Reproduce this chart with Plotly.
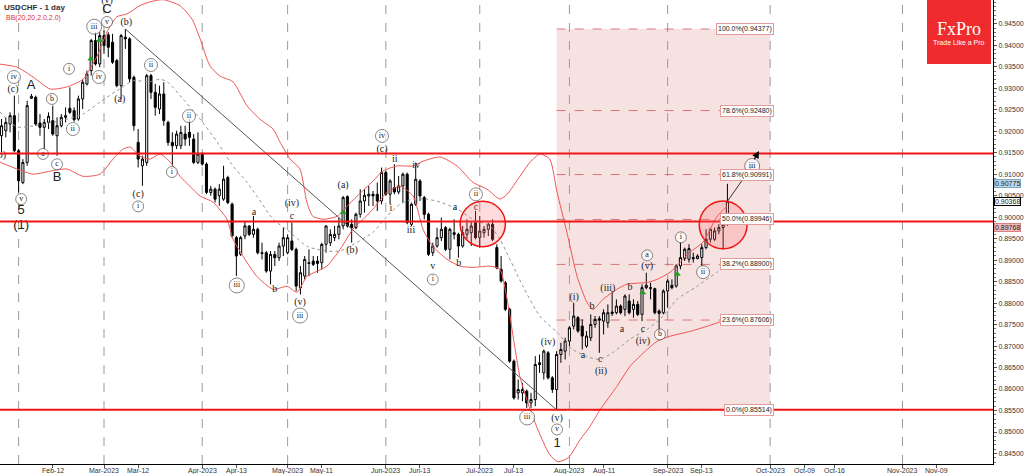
import plotly.graph_objects as go

# ---------------- DATA (bar numbers = trading days counted from 1 Mar 2023 = 0) ----------------
FIRST_BAR = -24

open_ = [
    0.91894, 0.92011, 0.92166, 0.92361, 0.91545, 0.90807, 0.91273, 0.92765, 0.92788, 0.92190,
    0.92089, 0.92205, 0.92244, 0.91894, 0.92127, 0.92322, 0.92531, 0.92477, 0.92283, 0.92749,
    0.93099, 0.93410, 0.94109, 0.93565, 0.94225, 0.94241, 0.94070, 0.93643, 0.93060, 0.94186,
    0.94148, 0.93254, 0.91739, 0.91195, 0.91273, 0.93293, 0.92904, 0.92516, 0.92866, 0.92205,
    0.91739, 0.91661, 0.91661, 0.91933, 0.91972, 0.91817, 0.91273, 0.91467, 0.91234, 0.90574,
    0.90651, 0.90496, 0.90418, 0.90923, 0.90302, 0.89524, 0.89136, 0.89563, 0.89794, 0.89599,
    0.89716, 0.89172, 0.89172, 0.88745, 0.89133, 0.89055, 0.89327, 0.89172, 0.89444, 0.89250,
    0.88356, 0.88628, 0.88939, 0.88978, 0.88978, 0.88939, 0.89366, 0.89405, 0.89522, 0.89599,
    0.89794, 0.90477, 0.89833, 0.89755, 0.90066, 0.90376, 0.90493, 0.90532, 0.90532, 0.90376,
    0.91037, 0.90532, 0.90687, 0.90586, 0.90726, 0.90998, 0.89833, 0.90299, 0.90843, 0.90454,
    0.90066, 0.89172, 0.89327, 0.89522, 0.89755, 0.89250, 0.89638, 0.89599, 0.89327, 0.89599,
    0.89638, 0.89871, 0.89522, 0.89638, 0.89716, 0.89833, 0.89291, 0.88786, 0.88475, 0.87854,
    0.86649, 0.85911, 0.85911, 0.85950, 0.85678, 0.85756, 0.86610, 0.86377, 0.86843, 0.86261,
    0.85989, 0.86805, 0.86882, 0.87115, 0.87465, 0.87660, 0.87465, 0.87000, 0.87194, 0.87504,
    0.87636, 0.87582, 0.87543, 0.87792, 0.87776, 0.87931, 0.87854, 0.88048, 0.87854, 0.87970,
    0.87737, 0.88359, 0.88335, 0.88335, 0.87815, 0.87776, 0.88281, 0.88413, 0.88397, 0.88864,
    0.89035, 0.89019, 0.89058, 0.89035, 0.89058, 0.89291, 0.89485, 0.89485, 0.89680, 0.89757,
    0.89835,
]
high = [
    0.92283, 0.92322, 0.92438, 0.92827, 0.91584, 0.91350, 0.92710, 0.92866, 0.92827, 0.92399,
    0.92283, 0.92438, 0.92594, 0.92322, 0.92399, 0.92555, 0.93021, 0.92555, 0.92827, 0.93215,
    0.93410, 0.94148, 0.94303, 0.94303, 0.94342, 0.94303, 0.94264, 0.93681, 0.94264, 0.94377,
    0.94186, 0.93293, 0.92050, 0.91428, 0.93332, 0.93332, 0.93099, 0.93060, 0.93138, 0.92244,
    0.91972, 0.92011, 0.92127, 0.92127, 0.92283, 0.91933, 0.91972, 0.91506, 0.91273, 0.90729,
    0.90690, 0.90768, 0.91195, 0.90962, 0.90340, 0.89563, 0.89563, 0.89913, 0.89809, 0.90027,
    0.89755, 0.89405, 0.89211, 0.89211, 0.89211, 0.89405, 0.89755, 0.89599, 0.89871, 0.89289,
    0.88861, 0.89094, 0.89250, 0.89094, 0.89094, 0.89405, 0.89809, 0.89716, 0.89794, 0.89988,
    0.90493, 0.90508, 0.89949, 0.90104, 0.90648, 0.90648, 0.90726, 0.90610, 0.90804, 0.91153,
    0.91076, 0.90881, 0.91231, 0.90959, 0.91037, 0.91037, 0.90338, 0.91270, 0.90881, 0.90493,
    0.90104, 0.89405, 0.89755, 0.89988, 0.89794, 0.89755, 0.89949, 0.89638, 0.89794, 0.89949,
    0.89910, 0.90143, 0.90027, 0.89794, 0.89871, 0.89949, 0.89369, 0.89097, 0.88514, 0.87892,
    0.86688, 0.86222, 0.86144, 0.85989, 0.85911, 0.86766, 0.86805, 0.86921, 0.86882, 0.86300,
    0.86882, 0.87077, 0.87194, 0.87465, 0.88009, 0.87698, 0.87621, 0.87349, 0.87737, 0.87698,
    0.87698, 0.87854, 0.87970, 0.88281, 0.88087, 0.87970, 0.88203, 0.88203, 0.88087, 0.88048,
    0.88436, 0.88708, 0.88475, 0.88359, 0.87854, 0.88320, 0.88553, 0.88553, 0.88903, 0.89408,
    0.89291, 0.89369, 0.89174, 0.89136, 0.89369, 0.89718, 0.89757, 0.89757, 0.89835, 0.89913,
    0.90775,
]
low = [
    0.91506, 0.91856, 0.91972, 0.91506, 0.90574, 0.90768, 0.91195, 0.92749, 0.92127, 0.91894,
    0.91584, 0.92050, 0.91894, 0.91428, 0.92089, 0.92205, 0.92399, 0.92221, 0.92244, 0.92516,
    0.93060, 0.93293, 0.93526, 0.93487, 0.93798, 0.93720, 0.93565, 0.93021, 0.92749, 0.93915,
    0.93138, 0.92011, 0.91156, 0.90729, 0.91195, 0.92749, 0.92361, 0.92399, 0.92127, 0.91661,
    0.91195, 0.91584, 0.91584, 0.91661, 0.91661, 0.91234, 0.91234, 0.91195, 0.90535, 0.90496,
    0.90340, 0.90263, 0.90379, 0.90302, 0.89524, 0.88631, 0.89097, 0.89486, 0.89561, 0.89522,
    0.89133, 0.89017, 0.88706, 0.88434, 0.88861, 0.88978, 0.89094, 0.89133, 0.89211, 0.88278,
    0.88201, 0.88550, 0.88628, 0.88861, 0.88706, 0.88784, 0.89172, 0.89327, 0.89444, 0.89483,
    0.89716, 0.89755, 0.89405, 0.89716, 0.89988, 0.90104, 0.90260, 0.90260, 0.90143, 0.90299,
    0.90493, 0.90299, 0.90532, 0.90532, 0.90338, 0.89833, 0.89794, 0.90260, 0.90376, 0.89949,
    0.89094, 0.89094, 0.89289, 0.89444, 0.89211, 0.89017, 0.89483, 0.89055, 0.89289, 0.89483,
    0.89327, 0.89483, 0.89289, 0.89522, 0.89561, 0.89444, 0.88786, 0.88475, 0.87815, 0.86610,
    0.85756, 0.85756, 0.85717, 0.85562, 0.85562, 0.85600, 0.86377, 0.86222, 0.86222, 0.85911,
    0.85514, 0.86610, 0.86688, 0.87000, 0.87387, 0.87310, 0.86921, 0.86960, 0.87115, 0.87426,
    0.86843, 0.87271, 0.87426, 0.87698, 0.87737, 0.87737, 0.87698, 0.87737, 0.87660, 0.87698,
    0.87582, 0.88320, 0.88087, 0.87737, 0.87387, 0.87737, 0.87892, 0.88320, 0.88359, 0.88786,
    0.88980, 0.88941, 0.88941, 0.89019, 0.88864, 0.89252, 0.89408, 0.89447, 0.89602, 0.89252,
    0.89796,
]
close = [
    0.92127, 0.92205, 0.92361, 0.91545, 0.90845, 0.91273, 0.92594, 0.92811, 0.92166, 0.92089,
    0.92205, 0.92345, 0.91933, 0.92127, 0.92322, 0.92361, 0.92438, 0.92267, 0.92749, 0.93138,
    0.93332, 0.94109, 0.93565, 0.94225, 0.93992, 0.93953, 0.93604, 0.93060, 0.94225, 0.94148,
    0.93215, 0.92127, 0.91350, 0.91350, 0.93293, 0.92904, 0.92555, 0.92866, 0.92244, 0.91739,
    0.91661, 0.91933, 0.91972, 0.91817, 0.91856, 0.91273, 0.91467, 0.91234, 0.90574, 0.90651,
    0.90418, 0.90651, 0.90884, 0.90340, 0.89563, 0.89097, 0.89524, 0.89796, 0.89599, 0.89716,
    0.89172, 0.89156, 0.88745, 0.89133, 0.89055, 0.89327, 0.89522, 0.89522, 0.89250, 0.88395,
    0.88706, 0.89017, 0.88923, 0.88900, 0.88923, 0.89366, 0.89794, 0.89599, 0.89599, 0.89794,
    0.90454, 0.89794, 0.89755, 0.90066, 0.90376, 0.90508, 0.90532, 0.90493, 0.90376, 0.91037,
    0.90532, 0.90843, 0.90586, 0.90726, 0.90998, 0.89871, 0.90299, 0.90881, 0.90493, 0.90066,
    0.89133, 0.89327, 0.89522, 0.89716, 0.89250, 0.89716, 0.89599, 0.89327, 0.89638, 0.89716,
    0.89794, 0.89522, 0.89677, 0.89716, 0.89833, 0.89483, 0.88817, 0.88514, 0.87854, 0.86649,
    0.85795, 0.85989, 0.85989, 0.85678, 0.85756, 0.86571, 0.86571, 0.86882, 0.86261, 0.85989,
    0.86805, 0.86921, 0.87115, 0.87426, 0.87698, 0.87349, 0.87233, 0.87233, 0.87504, 0.87621,
    0.87605, 0.87776, 0.87776, 0.87760, 0.87931, 0.87776, 0.88164, 0.87776, 0.87970, 0.87737,
    0.88359, 0.88413, 0.88359, 0.87776, 0.87760, 0.88281, 0.88514, 0.88359, 0.88864, 0.89058,
    0.89252, 0.89268, 0.89035, 0.89097, 0.89291, 0.89485, 0.89718, 0.89680, 0.89757, 0.89835,
    0.90368,
]

# Bollinger Bands (20, 2)
bb_up_bar = [-24.4, -20.4, -16.6, -12.6, -8.7, -4.9, -1.6, 0.7, 3.0, 5.4, 8.4, 10.8, 13.8, 17.8, 20.6,
             22.5, 24.8, 27.2, 30.2, 33.5, 36.5, 39.6, 41.2, 43.6, 45.9, 47.5, 48.9, 51.3, 54.6, 56.9,
             59.3, 63.0, 65.3, 68.6, 72.4, 74.7, 78.7, 82.7, 86.4, 89.7, 92.7, 94.4, 97.4, 99.8, 102.1,
             104.4, 106.1, 108.4, 110.8, 113.1, 114.5, 116.9, 120.1, 122.5, 127.2, 129.5, 132.6, 137.2,
             140.3, 143.6, 145.9]
bb_up = [0.9356, 0.9349, 0.9326, 0.9298, 0.9303, 0.9321, 0.9375, 0.9431, 0.9466, 0.9473, 0.9492, 0.9501,
         0.9506, 0.9492, 0.9461, 0.9415, 0.9352, 0.9328, 0.9315, 0.9259, 0.9228, 0.9205, 0.9175, 0.9135,
         0.9112, 0.9035, 0.9002, 0.8995, 0.9002, 0.9025, 0.9049, 0.9084, 0.9107, 0.9119, 0.9119, 0.9130,
         0.9140, 0.9119, 0.9081, 0.9065, 0.9042, 0.9053, 0.9095, 0.9128, 0.9147, 0.9135, 0.9058, 0.8965,
         0.8862, 0.8802, 0.8785, 0.8809, 0.8832, 0.8844, 0.8848, 0.8855, 0.8872, 0.8918, 0.8942, 0.9002,
         0.9025]
bb_lo_bar = [-24.4, -20.4, -16.6, -12.6, -8.7, -4.9, -0.9, 2.1, 4.4, 6.1, 8.4, 10.8, 13.1, 15.5, 17.8,
             20.1, 22.5, 25.5, 28.8, 30.2, 33.0, 35.8, 39.6, 42.9, 45.2, 47.5, 49.9, 52.2, 55.3, 58.3,
             60.7, 63.0, 66.3, 69.3, 72.4, 74.7, 77.0, 80.3, 83.4, 86.4, 90.4, 92.7, 94.4, 96.3, 97.4,
             99.8, 102.1, 104.4, 106.3, 108.7, 111.5, 113.8, 116.2, 120.1, 123.2, 127.2, 129.5, 132.6,
             137.2, 141.2, 145.9]
bb_lo = [0.9128, 0.9112, 0.9100, 0.9107, 0.9112, 0.9095, 0.9100, 0.9135, 0.9158, 0.9163, 0.9142, 0.9135,
         0.9147, 0.9128, 0.9095, 0.9072, 0.9049, 0.9035, 0.8995, 0.8949, 0.8902, 0.8862, 0.8832, 0.8839,
         0.8825, 0.8862, 0.8874, 0.8886, 0.8925, 0.8972, 0.8995, 0.9019, 0.9058, 0.9072, 0.9049, 0.8972,
         0.8932, 0.8902, 0.8886, 0.8883, 0.8886, 0.8879, 0.8809, 0.8692, 0.8629, 0.8552, 0.8494, 0.8447,
         0.8431, 0.8440, 0.8482, 0.8513, 0.8552, 0.8606, 0.8653, 0.8692, 0.8711, 0.8723, 0.8734, 0.8746,
         0.8762]
bb_mid_bar = [-24.4, -20.4, -16.6, -8.7, -4.9, -0.9, 3.0, 6.8, 10.8, 13.1, 14.8, 18.5, 22.5, 26.5, 30.2,
              33.5, 35.8, 39.6, 43.6, 47.5, 52.2, 55.3, 57.6, 63.0, 66.3, 69.3, 72.4, 75.6, 78.7, 82.7,
              86.4, 90.4, 92.7, 98.1, 102.1, 106.1, 109.8, 113.8, 116.2, 119.2, 123.2, 127.2, 130.9,
              134.2, 138.9, 143.6, 145.9]
bb_mid = [0.9245, 0.9210, 0.9212, 0.9228, 0.9240, 0.9268, 0.9294, 0.9317, 0.9315, 0.9321, 0.9315, 0.9275,
          0.9228, 0.9175, 0.9119, 0.9081, 0.9049, 0.8995, 0.8965, 0.8932, 0.8921, 0.8921, 0.8932, 0.8965,
          0.9002, 0.9030, 0.9042, 0.9042, 0.9035, 0.9019, 0.8995, 0.8979, 0.8949, 0.8839, 0.8769, 0.8732,
          0.8692, 0.8673, 0.8669, 0.8685, 0.8716, 0.8739, 0.8769, 0.8809, 0.8839, 0.8872, 0.8886]

# Fibonacci retracement
fib_bar0, fib_bar1 = 106, 156
fib_pct = [0.0, 23.6, 38.2, 50.0, 61.8, 78.6, 100.0]
fib_price = [0.85514, 0.87606, 0.88900, 0.89946, 0.90991, 0.92480, 0.94377]

# horizontal key levels
hline_prices = [0.9148, 0.8990, 0.8552]
# trend line (from March high to July low)
trend_bars = [5, 106]
trend_prices = [0.94377, 0.85514]
# highlighted zones (centre bar, centre price, radius in bars, radius in price)
zone_bars = [88.7, 145.0]
zone_prices = [0.8984, 0.8982]
zone_rx = [5.3, 5.6]
zone_ry = [0.00528, 0.00558]
# projection
proj_bars = [146, 151.8, 153.4]
proj_prices = [0.90368, 0.9119, 0.9154]
# buy arrows
buy_bars = [-3.1, -1.1, 56.0, 126.2, 134.3]
buy_prices = [0.9368, 0.9411, 0.9011, 0.8824, 0.8867]

# wave labels
circ_text = ["iv", "b", "i", "a", "c", "ii", "v", "iii", "v", "iv", "ii", "i", "i", "ii", "iii", "iii",
             "iv", "i", "ii", "iii", "v", "a", "b", "i", "ii", "iii"]
circ_bar = [-21.1, -12.2, -8.2, -14.3, -11.0, -7.3, -19.4, -2.3, 0.7, -1.2, 11.0, 8.0, 15.9, 19.9, 31.1,
            45.9, 65.1, 77.0, 87.1, 99.1, 106.1, 127.2, 130.2, 135.1, 140.3, 151.8]
circ_price = [0.9326, 0.9275, 0.9345, 0.9147, 0.9123, 0.9205, 0.9042, 0.9443, 0.9454, 0.9326, 0.9354,
              0.9025, 0.9105, 0.9235, 0.8841, 0.8771, 0.9189, 0.8855, 0.9053, 0.8534, 0.8506, 0.8911,
              0.8727, 0.8953, 0.8872, 0.9119]
wave_text = ["b)", "(c)", "(v)", "(b)", "(a)", "(c)", "(iv)", "(v)", "(a)", "(b)", "(c)", "(v)", "(iv)",
             "(i)", "(ii)", "(iii)", "(iv)", "(v)",
             "a", "c", "b", "ii", "i", "iv", "iii", "v", "a", "b", "c", "b", "a", "c", "b", "a", "c"]
wave_bar = [-23.9, -21.3, 0.7, 5.2, 3.7, 8.0, 44.0, 45.9, 56.0, 58.1, 65.1, 106.1, 104.0, 110.1, 116.4,
            118.0, 126.2, 127.2,
            35.1, 44.0, 40.0, 68.1, 67.2, 73.1, 71.9, 77.0, 82.2, 83.1, 87.1, 114.3, 112.2, 116.2, 123.2,
            121.3, 126.2]
wave_price = [0.9144, 0.9298, 0.9504, 0.9452, 0.9273, 0.9053, 0.9032, 0.8802, 0.9074, 0.8923, 0.9158,
              0.8531, 0.8708, 0.8813, 0.8641, 0.8834, 0.8711, 0.8886,
              0.9011, 0.9002, 0.8832, 0.9133, 0.9019, 0.9119, 0.8970, 0.8886, 0.9023, 0.8893, 0.9023,
              0.8792, 0.8678, 0.8669, 0.8837, 0.8739, 0.8739]
big_text = ["A", "B", "C", "5", "(1)", "1"]
big_bar = [-17.1, -11.0, 0.7, -19.4, -19.4, 106.1]
big_price = [0.9305, 0.9091, 0.9482, 0.9014, 0.8981, 0.8473]

# axes
tick_bars = [-12, 0, 8, 23, 31, 43, 51, 66, 74, 88, 96, 109, 117, 132, 140, 156, 164, 171, 187, 195]
tick_text = ["Feb-12", "Mar-2023", "Mar-12", "Apr-2023", "Apr-13", "May-2023", "May-11", "Jun-2023",
             "Jun-13", "Jul-2023", "Jul-13", "Aug-2023", "Aug-11", "Sep-2023", "Sep-13", "Oct-2023",
             "Oct-09", "Oct-16", "Nov-2023", "Nov-09"]
month_start_bars = [-20, 0, 23, 43, 66, 88, 109, 132, 156, 187]
price_ticks = [round(0.845 + 0.005 * k, 3) for k in range(21)]
price_tags = [("0.90775", 0.90775, "#bcd6ea", "#7fa6c4"),
              ("0.90368", 0.90368, "white", "black"),
              ("0.89768", 0.89768, "#f3b9b9", "#d98080")]

X_RANGE = [-24.36, 208.2]
Y_RANGE = [0.84256, 0.95052]

bars = list(range(FIRST_BAR, FIRST_BAR + len(close)))

# ---------------- FIGURE ----------------
fig = go.Figure()
FONT = "Liberation Sans, Arial, sans-serif"
SERIF = "Liberation Serif, Times New Roman, serif"

# fib box + levels
fig.add_shape(type="rect", x0=fib_bar0, x1=fib_bar1, y0=fib_price[0], y1=fib_price[-1],
              fillcolor="rgba(225,140,140,0.25)", line_width=0, layer="below")
for pct, pr in zip(fib_pct, fib_price):
    fig.add_shape(type="line", x0=fib_bar0, x1=fib_bar1, y0=pr, y1=pr,
                  line=dict(color="rgba(210,80,80,0.75)", width=1, dash="dash"), layer="below")
    fig.add_annotation(x=fib_bar1 + 0.8, y=pr, xref="x", yref="y", text=f"{pct:.1f}%({pr:.5f})",
                       showarrow=False, xanchor="right", yanchor="middle",
                       font=dict(family=FONT, size=7, color="#222"), bgcolor="white",
                       bordercolor="#e29a9a", borderwidth=1, borderpad=1)

# month separators
for b in month_start_bars:
    fig.add_shape(type="line", x0=b, x1=b, y0=0, y1=1, xref="x", yref="paper",
                  line=dict(color="#9a9a9a", width=1, dash="dash"), layer="below")

# trend line
fig.add_trace(go.Scatter(x=trend_bars, y=trend_prices, mode="lines",
                         line=dict(color="#555555", width=1)))

# Bollinger bands
fig.add_trace(go.Scatter(x=bb_mid_bar, y=bb_mid, mode="lines",
                         line=dict(color="#8a9a92", width=1, dash="dot", shape="spline", smoothing=0.6)))
fig.add_trace(go.Scatter(x=bb_up_bar, y=bb_up, mode="lines",
                         line=dict(color="#f05555", width=1, shape="spline", smoothing=0.6)))
fig.add_trace(go.Scatter(x=bb_lo_bar, y=bb_lo, mode="lines",
                         line=dict(color="#f05555", width=1, shape="spline", smoothing=0.6)))

# candles
fig.add_trace(go.Candlestick(
    x=bars, open=open_, high=high, low=low, close=close, whiskerwidth=0,
    increasing=dict(fillcolor="white", line=dict(color="black", width=1)),
    decreasing=dict(fillcolor="black", line=dict(color="black", width=1)),
))

# buy arrows
fig.add_trace(go.Scatter(x=buy_bars, y=buy_prices, mode="markers",
                         marker=dict(symbol="triangle-up", size=6, color="#22a022")))

# horizontal levels
for pr in hline_prices:
    fig.add_shape(type="line", x0=0, x1=1, xref="paper", y0=pr, y1=pr,
                  line=dict(color="#f01414", width=2), layer="above")

# highlighted zones
for xb, yp, rx, ry in zip(zone_bars, zone_prices, zone_rx, zone_ry):
    fig.add_shape(type="circle", x0=xb - rx, x1=xb + rx, y0=yp - ry, y1=yp + ry,
                  fillcolor="rgba(255,110,110,0.25)", line=dict(color="#f01414", width=1.5),
                  layer="above")

# projection path
fig.add_trace(go.Scatter(x=proj_bars[:2], y=proj_prices[:2], mode="lines",
                         line=dict(color="#333333", width=1)))
fig.add_annotation(x=proj_bars[2], y=proj_prices[2], ax=proj_bars[1] + 0.3, ay=proj_prices[1] + 0.0012,
                   xref="x", yref="y", axref="x", ayref="y", showarrow=True, arrowhead=2,
                   arrowsize=1.2, arrowwidth=1.2, arrowcolor="black", text="")

# wave labels
fig.add_trace(go.Scatter(
    x=circ_bar, y=circ_price, mode="markers+text", text=circ_text, textposition="middle center",
    marker=dict(symbol="circle", size=[9 + 2 * len(t) for t in circ_text], color="white",
                line=dict(color="#555555", width=1)),
    textfont=dict(family=SERIF, size=8, color="#222")))
fig.add_trace(go.Scatter(x=wave_bar, y=wave_price, mode="text", text=wave_text,
                         textposition="middle center",
                         textfont=dict(family=SERIF, size=10, color="#222")))
fig.add_trace(go.Scatter(x=big_bar, y=big_price, mode="text", text=big_text,
                         textposition="middle center",
                         textfont=dict(family=FONT, size=13, color="#222")))

# x labels
for b, t in zip(tick_bars, tick_text):
    fig.add_annotation(x=b, y=0, xref="x", yref="paper", text=t, showarrow=False,
                       xanchor="center", yanchor="top", yshift=-1,
                       font=dict(family=FONT, size=7, color="#333"))

# price tags on the axis
for txt, pr, bg, bc in price_tags:
    fig.add_annotation(x=1, y=pr, xref="paper", yref="y", text=txt, showarrow=False,
                       xanchor="left", yanchor="middle", xshift=1,
                       font=dict(family=FONT, size=7, color="#222"), bgcolor=bg,
                       bordercolor=bc, borderwidth=1, borderpad=0)

# title texts
fig.add_annotation(x=0, y=1, xref="paper", yref="paper", text="<b>USDCHF - 1 day</b>",
                   showarrow=False, xanchor="left", yanchor="top", xshift=2, yshift=-1,
                   font=dict(family=FONT, size=8, color="#333"))
fig.add_annotation(x=0, y=1, xref="paper", yref="paper", text="BB(20,20,2.0,2.0)",
                   showarrow=False, xanchor="left", yanchor="top", xshift=4, yshift=-12,
                   font=dict(family=FONT, size=7, color="#e03030"))

# logo
fig.add_shape(type="rect", xref="paper", yref="paper", x0=927 / 993, x1=991 / 993,
              y0=1 - 64 / 464, y1=1, fillcolor="#ef2b2d", line_width=0, layer="above")
fig.add_annotation(x=959 / 993, y=1 - 29 / 464, xref="paper", yref="paper", text="FxPro",
                   showarrow=False, xanchor="center", yanchor="middle",
                   font=dict(family=SERIF, size=18, color="white"))
fig.add_annotation(x=959 / 993, y=1 - 42 / 464, xref="paper", yref="paper", text="Trade Like a Pro",
                   showarrow=False, xanchor="center", yanchor="middle",
                   font=dict(family=FONT, size=7, color="white"))

fig.update_layout(
    width=1024, height=474, margin=dict(l=0, r=31, t=0, b=10),
    paper_bgcolor="white", plot_bgcolor="white", showlegend=False, hovermode=False,
    xaxis=dict(range=X_RANGE, showgrid=False, zeroline=False, showline=True, linecolor="black",
               linewidth=1, mirror=True, ticks="outside", ticklen=3, tickcolor="#555",
               tickvals=tick_bars, showticklabels=False, rangeslider=dict(visible=False),
               fixedrange=True),
    yaxis=dict(side="right", range=Y_RANGE, showgrid=False, zeroline=False, showline=True,
               linecolor="black", linewidth=1, mirror=True, ticks="outside", ticklen=3,
               tickcolor="#555", tickvals=price_ticks, tickformat=".5f",
               tickfont=dict(family=FONT, size=7, color="#333"),
               minor=dict(ticks="outside", ticklen=2, dtick=0.001, tick0=0.845, tickcolor="#777"),
               automargin=False, fixedrange=True),
)

fig.write_html("out.html", config={"displayModeBar": False},
               post_script="document.body.style.margin='0';document.body.style.overflow='hidden';")
